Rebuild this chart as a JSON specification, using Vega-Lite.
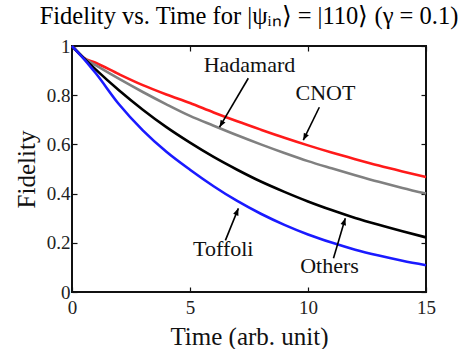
{
  "$schema": "https://vega.github.io/schema/vega-lite/v6.json",
  "width": 354,
  "height": 246,
  "autosize": {"type": "none"},
  "padding": {"left": 72, "top": 46, "right": 42, "bottom": 57},
  "background": "white",
  "title": {
    "text": "Fidelity vs. Time for |ψᵢₙ⟩ = |110⟩ (γ = 0.1)",
    "font": "Liberation Serif",
    "fontSize": 24.5,
    "fontWeight": "normal",
    "color": "#000",
    "offset": 8,
    "anchor": "middle"
  },
  "config": {
    "font": "Liberation Serif",
    "view": {"stroke": "#111", "strokeWidth": 2},
    "text": {"font": "Liberation Serif"},
    "axis": {
      "grid": false,
      "domain": false,
      "tickColor": "#111",
      "tickWidth": 1.2,
      "tickSize": -5,
      "labelFont": "Liberation Serif",
      "labelFontSize": 19,
      "labelColor": "#222",
      "titleFont": "Liberation Serif",
      "titleFontSize": 25,
      "titleFontWeight": "normal",
      "titleColor": "#111"
    }
  },
  "datasets": {
    "curves": [
      {"t": 0, "F": 1.0, "gate": "CNOT"},
      {"t": 0.5, "F": 0.952, "gate": "CNOT"},
      {"t": 1, "F": 0.932, "gate": "CNOT"},
      {"t": 2, "F": 0.885, "gate": "CNOT"},
      {"t": 3, "F": 0.841, "gate": "CNOT"},
      {"t": 4, "F": 0.803, "gate": "CNOT"},
      {"t": 5, "F": 0.768, "gate": "CNOT"},
      {"t": 6, "F": 0.730, "gate": "CNOT"},
      {"t": 7, "F": 0.694, "gate": "CNOT"},
      {"t": 8, "F": 0.660, "gate": "CNOT"},
      {"t": 9, "F": 0.627, "gate": "CNOT"},
      {"t": 10, "F": 0.596, "gate": "CNOT"},
      {"t": 11, "F": 0.567, "gate": "CNOT"},
      {"t": 12, "F": 0.540, "gate": "CNOT"},
      {"t": 13, "F": 0.514, "gate": "CNOT"},
      {"t": 14, "F": 0.490, "gate": "CNOT"},
      {"t": 15, "F": 0.467, "gate": "CNOT"},
      {"t": 0, "F": 1.0, "gate": "Hadamard"},
      {"t": 0.5, "F": 0.951, "gate": "Hadamard"},
      {"t": 1, "F": 0.922, "gate": "Hadamard"},
      {"t": 2, "F": 0.866, "gate": "Hadamard"},
      {"t": 3, "F": 0.813, "gate": "Hadamard"},
      {"t": 4, "F": 0.763, "gate": "Hadamard"},
      {"t": 5, "F": 0.716, "gate": "Hadamard"},
      {"t": 6, "F": 0.676, "gate": "Hadamard"},
      {"t": 7, "F": 0.637, "gate": "Hadamard"},
      {"t": 8, "F": 0.600, "gate": "Hadamard"},
      {"t": 9, "F": 0.565, "gate": "Hadamard"},
      {"t": 10, "F": 0.532, "gate": "Hadamard"},
      {"t": 11, "F": 0.503, "gate": "Hadamard"},
      {"t": 12, "F": 0.475, "gate": "Hadamard"},
      {"t": 13, "F": 0.448, "gate": "Hadamard"},
      {"t": 14, "F": 0.423, "gate": "Hadamard"},
      {"t": 15, "F": 0.400, "gate": "Hadamard"},
      {"t": 0, "F": 1.0, "gate": "Others"},
      {"t": 0.5, "F": 0.951, "gate": "Others"},
      {"t": 1, "F": 0.905, "gate": "Others"},
      {"t": 2, "F": 0.819, "gate": "Others"},
      {"t": 3, "F": 0.741, "gate": "Others"},
      {"t": 4, "F": 0.670, "gate": "Others"},
      {"t": 5, "F": 0.607, "gate": "Others"},
      {"t": 6, "F": 0.549, "gate": "Others"},
      {"t": 7, "F": 0.497, "gate": "Others"},
      {"t": 8, "F": 0.449, "gate": "Others"},
      {"t": 9, "F": 0.407, "gate": "Others"},
      {"t": 10, "F": 0.368, "gate": "Others"},
      {"t": 11, "F": 0.333, "gate": "Others"},
      {"t": 12, "F": 0.301, "gate": "Others"},
      {"t": 13, "F": 0.273, "gate": "Others"},
      {"t": 14, "F": 0.247, "gate": "Others"},
      {"t": 15, "F": 0.222, "gate": "Others"},
      {"t": 0, "F": 1.0, "gate": "Toffoli"},
      {"t": 0.5, "F": 0.948, "gate": "Toffoli"},
      {"t": 1, "F": 0.890, "gate": "Toffoli"},
      {"t": 2, "F": 0.762, "gate": "Toffoli"},
      {"t": 3, "F": 0.657, "gate": "Toffoli"},
      {"t": 4, "F": 0.570, "gate": "Toffoli"},
      {"t": 5, "F": 0.497, "gate": "Toffoli"},
      {"t": 6, "F": 0.430, "gate": "Toffoli"},
      {"t": 7, "F": 0.370, "gate": "Toffoli"},
      {"t": 8, "F": 0.318, "gate": "Toffoli"},
      {"t": 9, "F": 0.273, "gate": "Toffoli"},
      {"t": 10, "F": 0.234, "gate": "Toffoli"},
      {"t": 11, "F": 0.201, "gate": "Toffoli"},
      {"t": 12, "F": 0.172, "gate": "Toffoli"},
      {"t": 13, "F": 0.148, "gate": "Toffoli"},
      {"t": 14, "F": 0.127, "gate": "Toffoli"},
      {"t": 15, "F": 0.109, "gate": "Toffoli"}
    ],
    "notes": [
      {"label": "Hadamard", "tx": 7.52, "ty": 0.922, "x1": 7.47, "y1": 0.869, "x2": 6.25, "y2": 0.670},
      {"label": "CNOT", "tx": 10.74, "ty": 0.808, "x1": 10.48, "y1": 0.751, "x2": 9.80, "y2": 0.617},
      {"label": "Toffoli", "tx": 6.41, "ty": 0.174, "x1": 6.50, "y1": 0.210, "x2": 7.05, "y2": 0.340},
      {"label": "Others", "tx": 10.91, "ty": 0.104, "x1": 11.08, "y1": 0.137, "x2": 11.58, "y2": 0.300}
    ]
  },
  "layer": [
    {
      "data": {"name": "curves"},
      "mark": {"type": "line", "strokeWidth": 2.6, "interpolate": "monotone"},
      "encoding": {
        "x": {"field": "t", "type": "quantitative", "scale": {"domain": [0, 15], "nice": false},
              "axis": {"orient": "bottom", "values": [0, 5, 10, 15], "format": "~g", "title": "Time (arb. unit)", "labelFont": "Liberation Serif", "titleFont": "Liberation Serif", "labelPadding": 11, "titlePadding": 7, "labelFlush": false}},
        "y": {"field": "F", "type": "quantitative", "scale": {"domain": [0, 1], "nice": false},
              "axis": {"orient": "left", "values": [0, 0.2, 0.4, 0.6, 0.8, 1], "format": "~g", "title": "Fidelity", "labelFont": "Liberation Serif", "titleFont": "Liberation Serif", "labelPadding": 7, "titlePadding": 7, "labelFlush": false}},
        "color": {"field": "gate", "type": "nominal",
                  "scale": {"domain": ["CNOT", "Hadamard", "Others", "Toffoli"], "range": ["#ff1a1a", "#808080", "#000000", "#1a1aff"]},
                  "legend": null}
      }
    },
    {
      "data": {"name": "curves"},
      "mark": {"type": "line", "opacity": 0},
      "encoding": {
        "x": {"field": "t", "type": "quantitative",
              "axis": {"orient": "top", "values": [0, 5, 10, 15], "labels": false, "title": null}},
        "y": {"field": "F", "type": "quantitative",
              "axis": {"orient": "right", "values": [0, 0.2, 0.4, 0.6, 0.8, 1], "labels": false, "title": null}}
      }
    },
    {
      "data": {"name": "notes"},
      "mark": {"type": "rule", "strokeWidth": 1.6, "color": "#000"},
      "encoding": {
        "x": {"field": "x1", "type": "quantitative", "axis": null},
        "y": {"field": "y1", "type": "quantitative", "axis": null},
        "x2": {"field": "x2"},
        "y2": {"field": "y2"}
      }
    },
    {
      "data": {"name": "notes"},
      "transform": [{"filter": "datum.label === 'Hadamard'"}],
      "mark": {"type": "point", "shape": "M0,0L-0.4,1L0.4,1Z", "size": 196, "filled": true, "color": "#000", "opacity": 1, "angle": 210.6},
      "encoding": {"x": {"field": "x2", "type": "quantitative", "axis": null}, "y": {"field": "y2", "type": "quantitative", "axis": null}}
    },
    {
      "data": {"name": "notes"},
      "transform": [{"filter": "datum.label === 'CNOT'"}],
      "mark": {"type": "point", "shape": "M0,0L-0.4,1L0.4,1Z", "size": 196, "filled": true, "color": "#000", "opacity": 1, "angle": 205.9},
      "encoding": {"x": {"field": "x2", "type": "quantitative", "axis": null}, "y": {"field": "y2", "type": "quantitative", "axis": null}}
    },
    {
      "data": {"name": "notes"},
      "transform": [{"filter": "datum.label === 'Toffoli'"}],
      "mark": {"type": "point", "shape": "M0,0L-0.4,1L0.4,1Z", "size": 196, "filled": true, "color": "#000", "opacity": 1, "angle": 22},
      "encoding": {"x": {"field": "x2", "type": "quantitative", "axis": null}, "y": {"field": "y2", "type": "quantitative", "axis": null}}
    },
    {
      "data": {"name": "notes"},
      "transform": [{"filter": "datum.label === 'Others'"}],
      "mark": {"type": "point", "shape": "M0,0L-0.4,1L0.4,1Z", "size": 196, "filled": true, "color": "#000", "opacity": 1, "angle": 16.7},
      "encoding": {"x": {"field": "x2", "type": "quantitative", "axis": null}, "y": {"field": "y2", "type": "quantitative", "axis": null}}
    },
    {
      "data": {"name": "notes"},
      "mark": {"type": "text", "font": "Liberation Serif", "fontSize": 22, "color": "#111", "align": "center", "baseline": "middle"},
      "encoding": {
        "x": {"field": "tx", "type": "quantitative", "axis": null},
        "y": {"field": "ty", "type": "quantitative", "axis": null},
        "text": {"field": "label"}
      }
    }
  ],
  "resolve": {"axis": {"x": "independent", "y": "independent"}}
}
